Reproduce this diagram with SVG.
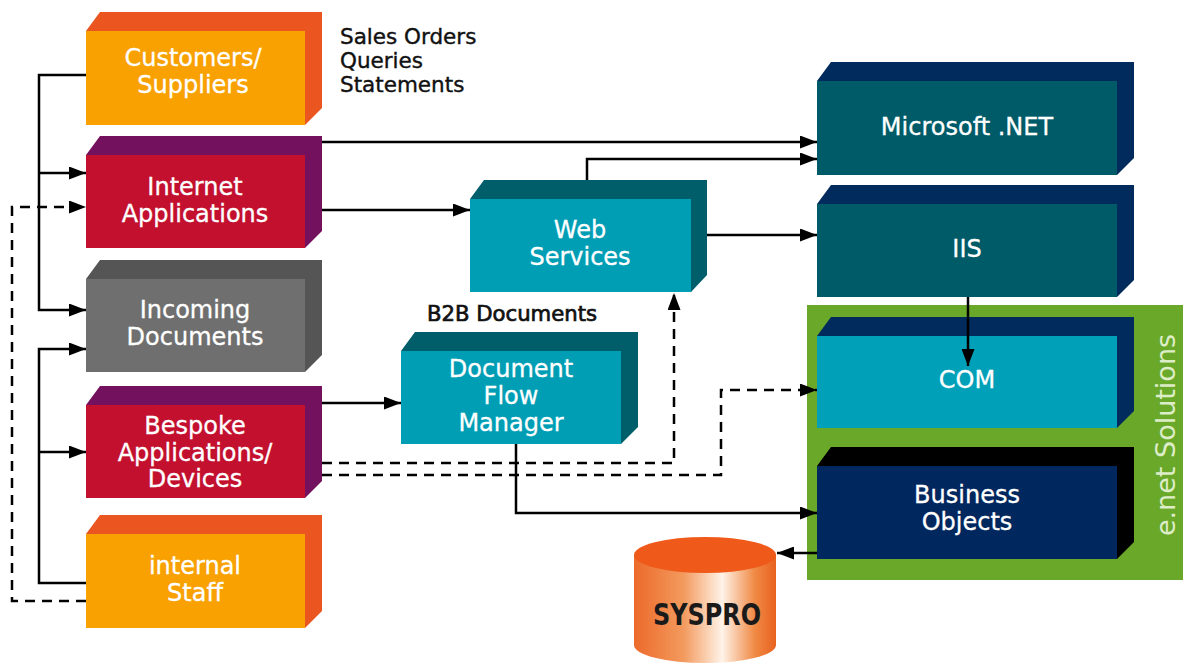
<svg xmlns="http://www.w3.org/2000/svg" width="1183" height="664" viewBox="0 0 1183 664">
<defs>
<style>
.lbl{font-family:"DejaVu Sans","Liberation Sans",sans-serif;font-size:24px;fill:#ffffff;stroke:#ffffff;stroke-width:0.3;text-anchor:middle}
.note{font-family:"DejaVu Sans","Liberation Sans",sans-serif;font-size:21.5px;fill:#111111;stroke:#111111;stroke-width:0.4}
.ln{fill:none;stroke:#000;stroke-width:2.5}
.dash{fill:none;stroke:#000;stroke-width:2.5;stroke-dasharray:10 7}
</style>
<marker id="ah" markerUnits="userSpaceOnUse" markerWidth="17" markerHeight="13" refX="17" refY="6.5" orient="auto">
<path d="M0,0 L17,6.5 L0,13 z" fill="#000" stroke="none"/>
</marker>
<linearGradient id="cyl" x1="0" y1="0" x2="1" y2="0">
<stop offset="0" stop-color="#EC6A2A"/>
<stop offset="0.35" stop-color="#F39A5E"/>
<stop offset="0.62" stop-color="#FFF3E8"/>
<stop offset="0.85" stop-color="#F08A45"/>
<stop offset="1" stop-color="#E8621F"/>
</linearGradient>
</defs>
<rect width="1183" height="664" fill="#ffffff"/>

<g id="enet">
<rect x="807" y="305" width="376" height="275" fill="#6AA829"/>
<text x="1175" y="435" transform="rotate(-90 1175 435)" text-anchor="middle" style="font-family:'DejaVu Sans','Liberation Sans',sans-serif;font-size:27px;fill:#DDEDC8">e.net Solutions</text>
</g>

<g id="customers">
<polygon points="86,31 100,12 322,12 322,108 305,125 305,31" fill="#EA5520"/>
<rect x="86" y="31" width="219" height="94" fill="#F8A100"/>
<text class="lbl" x="193" y="66">Customers/</text>
<text class="lbl" x="193" y="93">Suppliers</text>
</g>

<g id="internet">
<polygon points="86,155 100,136 322,136 322,231 305,248 305,155" fill="#74115F"/>
<rect x="86" y="155" width="219" height="93" fill="#C3102F"/>
<text class="lbl" x="195" y="195">Internet</text>
<text class="lbl" x="195" y="222">Applications</text>
</g>

<g id="incoming">
<polygon points="86,279 100,260 322,260 322,355 305,372 305,279" fill="#565555"/>
<rect x="86" y="279" width="219" height="93" fill="#706F6F"/>
<text class="lbl" x="195" y="318">Incoming</text>
<text class="lbl" x="195" y="345">Documents</text>
</g>

<g id="bespoke">
<polygon points="86,405 100,386 322,386 322,481 305,498 305,405" fill="#74115F"/>
<rect x="86" y="405" width="219" height="93" fill="#C3102F"/>
<text class="lbl" x="195" y="434">Bespoke</text>
<text class="lbl" x="195" y="461">Applications/</text>
<text class="lbl" x="195" y="487">Devices</text>
</g>

<g id="internal">
<polygon points="86,534 100,515 322,515 322,611 305,628 305,534" fill="#EA5520"/>
<rect x="86" y="534" width="219" height="94" fill="#F8A100"/>
<text class="lbl" x="195" y="574">internal</text>
<text class="lbl" x="195" y="601">Staff</text>
</g>

<g id="web">
<polygon points="470,199 484,180 707,180 707,275 691,292 691,199" fill="#005E6B"/>
<rect x="470" y="199" width="221" height="93" fill="#009EB5"/>
<text class="lbl" x="580" y="238">Web</text>
<text class="lbl" x="580" y="265">Services</text>
</g>

<g id="dfm">
<polygon points="401,351 415,332 638,332 638,427 621,444 621,351" fill="#005E6B"/>
<rect x="401" y="351" width="220" height="93" fill="#009EB5"/>
<text class="lbl" x="511" y="377">Document</text>
<text class="lbl" x="511" y="404">Flow</text>
<text class="lbl" x="511" y="431">Manager</text>
</g>

<g id="msnet">
<polygon points="817,81 831,62 1134,62 1134,158 1117,175 1117,81" fill="#002B5C"/>
<rect x="817" y="81" width="300" height="94" fill="#005B69"/>
<text class="lbl" x="967" y="135">Microsoft .NET</text>
</g>

<g id="iis">
<polygon points="817,204 831,185 1134,185 1134,280 1117,297 1117,204" fill="#002B5C"/>
<rect x="817" y="204" width="300" height="93" fill="#005B69"/>
<text class="lbl" x="967" y="257">IIS</text>
</g>

<g id="com">
<polygon points="817,336 831,317 1134,317 1134,411 1117,428 1117,336" fill="#002B5C"/>
<rect x="817" y="336" width="300" height="92" fill="#00A0B8"/>
<text class="lbl" x="967" y="388">COM</text>
</g>

<g id="business">
<polygon points="817,466 831,447 1134,447 1134,542 1117,559 1117,466" fill="#000000"/>
<rect x="817" y="466" width="300" height="93" fill="#00275E"/>
<text class="lbl" x="967" y="503">Business</text>
<text class="lbl" x="967" y="530">Objects</text>
</g>

<g id="syspro">
<path d="M634,555 V645 A71,18 0 0 0 776,645 V555 z" fill="url(#cyl)"/>
<ellipse cx="705" cy="555" rx="71" ry="18" fill="#EF5A1B"/>
<text x="707" y="625" text-anchor="middle" textLength="108" lengthAdjust="spacingAndGlyphs" style="font-family:'DejaVu Sans Condensed','DejaVu Sans',sans-serif;font-weight:bold;font-size:30px;fill:#1A1A1A">SYSPRO</text>
</g>

<g id="labels">
<text class="note" x="340" y="44">Sales Orders</text>
<text class="note" x="340" y="68">Queries</text>
<text class="note" x="340" y="92">Statements</text>
<text class="note" x="427" y="321" textLength="170" lengthAdjust="spacingAndGlyphs" style="font-size:21px;stroke-width:0.7">B2B Documents</text>
</g>

<g id="connectors">
<path class="ln" d="M86,75 H39 V310 H86" marker-end="url(#ah)"/>
<path class="ln" d="M39,173 H86" marker-end="url(#ah)"/>
<path class="ln" d="M86,583 H39 V349 H86" marker-end="url(#ah)"/>
<path class="ln" d="M39,452 H86" marker-end="url(#ah)"/>
<path class="dash" d="M86,601 H12 V207 H86" marker-end="url(#ah)"/>
<path class="ln" d="M322,142 H817" marker-end="url(#ah)"/>
<path class="ln" d="M322,210 H470" marker-end="url(#ah)"/>
<path class="ln" d="M587,180 V159 H817" marker-end="url(#ah)"/>
<path class="ln" d="M707,235 H817" marker-end="url(#ah)"/>
<path class="ln" d="M968,297 V366" marker-end="url(#ah)"/>
<path class="ln" d="M322,403 H401" marker-end="url(#ah)"/>
<path class="dash" d="M322,463 H674 V293" marker-end="url(#ah)"/>
<path class="dash" d="M322,475 H721 V390 H817" marker-end="url(#ah)"/>
<path class="ln" d="M516,444 V513 H817" marker-end="url(#ah)"/>
<path class="ln" d="M817,553 H777" marker-end="url(#ah)"/>
</g>
</svg>
